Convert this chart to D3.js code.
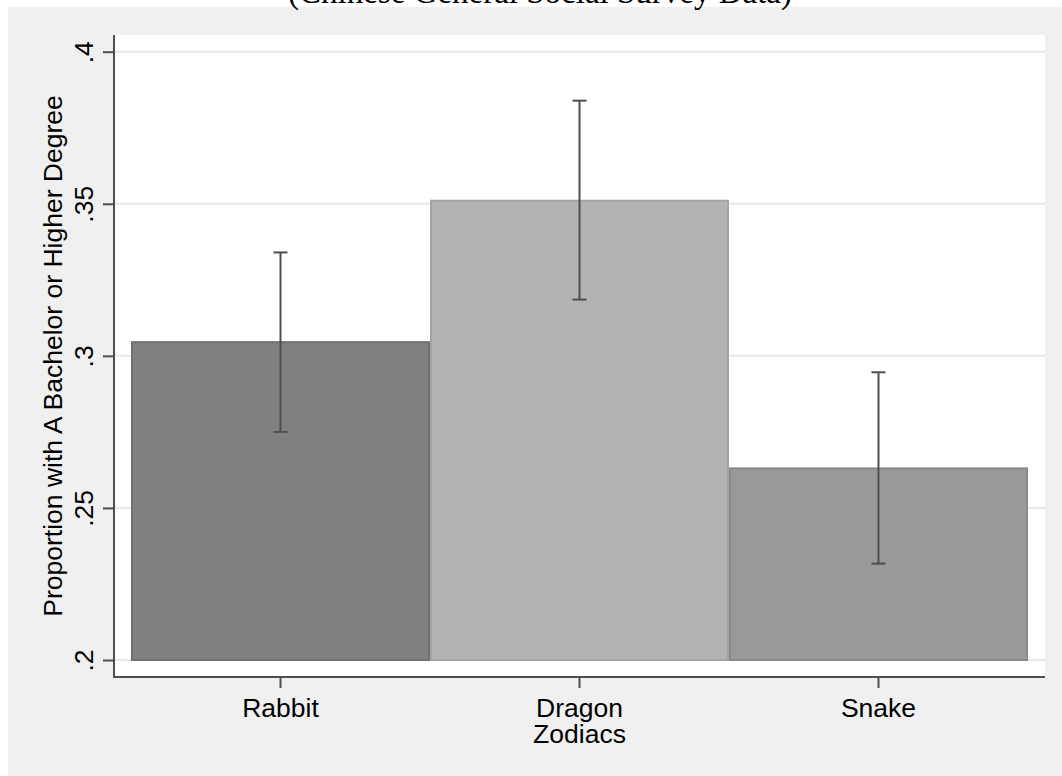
<!DOCTYPE html>
<html>
<head>
<meta charset="utf-8">
<script src="https://cdn.jsdelivr.net/npm/d3@7"></script>
<style>
  body { margin: 0; background: #ffffff; }
  text { font-family: "Liberation Sans", Arial, sans-serif; fill: #000; }
</style>
</head>
<body>
<div id="chart"></div>
<script>
// zodiac groups, bar heights and 95% CI ends
var categories = ["Rabbit", "Dragon", "Snake"];
var proportions = [0.3045, 0.351, 0.263];
var ciLow = [0.275, 0.3185, 0.2317];
var ciHigh = [0.334, 0.3839, 0.2946];
var barColors = ["#808080", "#b3b3b3", "#999999"];
var barStrokes = ["#707070", "#a3a3a3", "#898989"];
var yTicks = [0.2, 0.25, 0.3, 0.35, 0.4];
var yTickLabels = [".2", ".25", ".3", ".35", ".4"];

var width = 1062, height = 776;
var plot = {left: 114, right: 1045, top: 35, bottom: 677};
var fontSize = "26.5px";

var svg = d3.select("#chart").append("svg")
    .attr("width", width)
    .attr("height", height);

// outer graph region
svg.append("rect").attr("x", 8).attr("y", 7)
    .attr("width", width - 8).attr("height", height - 7)
    .attr("fill", "#f0f0f0");

// title, cut off at the top of the frame as in the original
svg.append("text")
    .attr("x", 540).attr("y", 3)
    .style("text-anchor", "middle")
    .style("font-family", "'Liberation Serif', 'Times New Roman', serif")
    .style("font-size", "33px")
    .text("(Chinese General Social Survey Data)");

// plot region
svg.append("rect").attr("x", plot.left).attr("y", plot.top)
    .attr("width", plot.right - plot.left).attr("height", plot.bottom - plot.top)
    .attr("fill", "#ffffff");

var y = d3.scaleLinear().domain([0.2, 0.4]).range([660, 51.7]);
var x = d3.scaleBand().domain(categories).range([131, 1028]).paddingInner(0);

// grid lines
svg.selectAll(".grid").data(yTicks).enter().append("line")
    .attr("x1", plot.left).attr("x2", plot.right)
    .attr("y1", function(d){ return y(d); })
    .attr("y2", function(d){ return y(d); })
    .attr("stroke", "#e8e8e8")
    .attr("stroke-width", 2);

// bars
svg.selectAll(".bar").data(categories).enter().append("rect")
    .attr("x", function(d){ return x(d) + 1; })
    .attr("width", x.bandwidth() - 2)
    .attr("y", function(d, i){ return y(proportions[i]); })
    .attr("height", function(d, i){ return y(0.2) - y(proportions[i]); })
    .attr("fill", function(d, i){ return barColors[i]; })
    .attr("stroke", function(d, i){ return barStrokes[i]; })
    .attr("stroke-width", 2);

// error bars
var capHalf = 7;
categories.forEach(function(c, i){
    var cx = x(c) + x.bandwidth() / 2;
    var g = svg.append("g").attr("stroke", "#4f4f4f").attr("stroke-width", 2);
    g.append("line").attr("x1", cx).attr("x2", cx)
        .attr("y1", y(ciLow[i])).attr("y2", y(ciHigh[i]));
    g.append("line").attr("x1", cx - capHalf).attr("x2", cx + capHalf)
        .attr("y1", y(ciLow[i])).attr("y2", y(ciLow[i]));
    g.append("line").attr("x1", cx - capHalf).attr("x2", cx + capHalf)
        .attr("y1", y(ciHigh[i])).attr("y2", y(ciHigh[i]));
});

// y axis
var yAxis = d3.axisLeft(y).tickValues(yTicks)
    .tickFormat(function(d, i){ return yTickLabels[i]; })
    .tickSize(11).tickSizeOuter(0);
var yg = svg.append("g").attr("transform", "translate(" + plot.left + ",0)").call(yAxis);
yg.select(".domain").remove();
yg.selectAll(".tick line").attr("stroke", "#4f4f4f").attr("stroke-width", 2);
yg.selectAll(".tick text")
    .attr("x", null).attr("dy", null)
    .attr("transform", "translate(-21,0) rotate(-90)")
    .style("text-anchor", "middle")
    .style("font-size", fontSize)
    .style("font-family", "'Liberation Sans', Arial, sans-serif");
svg.append("line").attr("x1", plot.left).attr("x2", plot.left)
    .attr("y1", plot.top).attr("y2", plot.bottom + 1)
    .attr("stroke", "#4f4f4f").attr("stroke-width", 2);

// x axis
var xAxis = d3.axisBottom(x).tickSize(11).tickSizeOuter(0);
var xg = svg.append("g").attr("transform", "translate(0," + plot.bottom + ")").call(xAxis);
xg.select(".domain").remove();
xg.selectAll(".tick line").attr("stroke", "#4f4f4f").attr("stroke-width", 2);
xg.selectAll(".tick text")
    .attr("y", 40).attr("dy", null)
    .style("font-size", fontSize)
    .style("font-family", "'Liberation Sans', Arial, sans-serif");
svg.append("line").attr("x1", plot.left - 1).attr("x2", plot.right)
    .attr("y1", plot.bottom).attr("y2", plot.bottom)
    .attr("stroke", "#4f4f4f").attr("stroke-width", 2);

// axis titles
svg.append("text")
    .attr("transform", "translate(62,356) rotate(-90)")
    .style("text-anchor", "middle")
    .style("font-size", fontSize)
    .text("Proportion with A Bachelor or Higher Degree");

svg.append("text")
    .attr("x", x("Dragon") + x.bandwidth() / 2).attr("y", 743)
    .style("text-anchor", "middle")
    .style("font-size", fontSize)
    .text("Zodiacs");
</script>
</body>
</html>
